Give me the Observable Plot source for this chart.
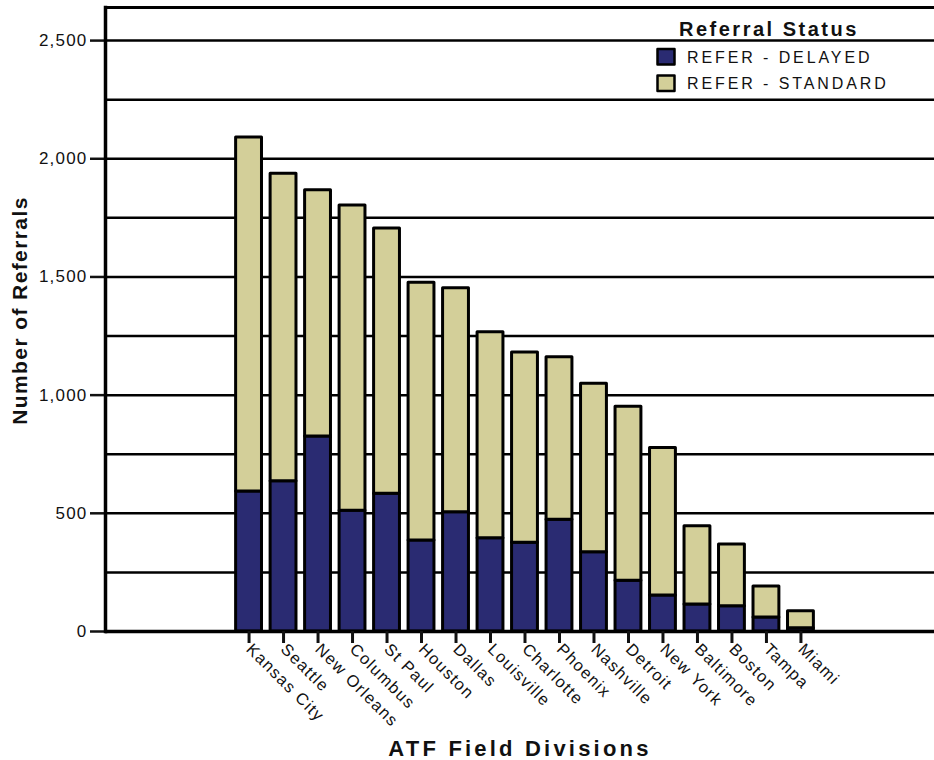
<!DOCTYPE html>
<html>
<head>
<meta charset="utf-8">
<script src="https://cdn.jsdelivr.net/npm/d3@7"></script>
<script src="https://cdn.jsdelivr.net/npm/@observablehq/plot@0.6"></script>
<style>
  html, body { margin: 0; padding: 0; background: #fff; }
  #wrap { position: relative; width: 934px; height: 760px; }
  #legend { position: absolute; left: 0; top: 0; pointer-events: none; }
  g[aria-label="y-axis tick label"] text { letter-spacing: 1.2px; }
  g[aria-label="x-axis tick label"] text { letter-spacing: 1.3px; }
</style>
</head>
<body>
<div id="wrap"></div>
<script>
// ---- data ----
const divisions = ["Kansas City", "Seattle", "New Orleans", "Columbus", "St Paul", "Houston", "Dallas",
  "Louisville", "Charlotte", "Phoenix", "Nashville", "Detroit", "New York", "Baltimore", "Boston", "Tampa", "Miami"];
const delayed  = [592, 636, 825, 511, 583, 385, 504, 395, 376, 473, 335, 215, 152, 114, 107, 59, 14];
const standard = [1498, 1301, 1042, 1291, 1122, 1091, 948, 871, 804, 687, 713, 736, 624, 331, 261, 131, 72];
const statuses = ["REFER - DELAYED", "REFER - STANDARD"];
const statusColors = ["#2a2b72", "#d3cf99"];
const yTicks = [0, 500, 1000, 1500, 2000, 2500];
const gridValues = [250, 500, 750, 1000, 1250, 1500, 1750, 2000, 2250, 2500];
const yMax = 2640;
const legendTitle = "Referral Status";
const xTitle = "ATF Field Divisions";
const yTitle = "Number of Referrals";

const rows = divisions.flatMap((d, i) => [
  {division: d, status: statuses[0], value: delayed[i]},
  {division: d, status: statuses[1], value: standard[i]}
]);

const font = "'Liberation Sans', Arial, Helvetica, sans-serif";

const chart = Plot.plot({
  width: 934,
  height: 760,
  marginLeft: 105,
  marginRight: 0,
  marginTop: 7,
  marginBottom: 129,
  style: {fontFamily: font, background: "white", color: "black"},
  x: {domain: divisions, paddingInner: 0.25, paddingOuter: 0.25, insetLeft: 122, insetRight: 112, round: false, label: null},
  y: {domain: [0, yMax], label: null},
  color: {domain: statuses, range: statusColors},
  marks: [
    Plot.ruleY(gridValues, {stroke: "black", strokeWidth: 2.5}),
    Plot.ruleY([yMax], {stroke: "black", strokeWidth: 3}),
    Plot.barY(rows, {x: "division", y: "value", fill: "status", stroke: "black", strokeWidth: 3, strokeLinejoin: "round"}),
    Plot.ruleY([0], {stroke: "black", strokeWidth: 3.5}),
    Plot.axisY({ticks: yTicks, tickSize: 15, tickPadding: 3, tickFormat: d3.format(","), fontSize: 17, strokeWidth: 2.5, color: "#111"}),
    Plot.axisX({tickSize: 12, tickPadding: 3, tickRotate: 45, fontSize: 16.5, strokeWidth: 3, color: "#111"}),
    Plot.frame({anchor: "left", stroke: "black", strokeWidth: 3.5}),
    Plot.text([yTitle], {frameAnchor: "left", textAnchor: "middle", lineAnchor: "middle", dx: -85, dy: -9, rotate: -90, fontSize: 21, fontWeight: "bold", fill: "#111"}),
    Plot.text([xTitle], {frameAnchor: "bottom", textAnchor: "middle", lineAnchor: "bottom", dy: 124, fontSize: 22, fontWeight: "bold", fill: "#111"})
  ]
});

const wrap = document.getElementById("wrap");
wrap.appendChild(chart);

// letter spacing for the axis titles
d3.select(chart).selectAll("text").filter(function() { return this.textContent === xTitle; })
  .style("letter-spacing", "3.2px");
d3.select(chart).selectAll("text").filter(function() { return this.textContent === yTitle; })
  .style("letter-spacing", "1.4px");

// ---- legend overlay ----
const leg = d3.select(wrap).append("svg")
  .attr("id", "legend").attr("width", 934).attr("height", 110)
  .style("font-family", font);
leg.append("text").attr("x", 679).attr("y", 35.5)
  .attr("font-size", 20).attr("font-weight", "bold").attr("fill", "#111")
  .style("letter-spacing", "2.5px").text(legendTitle);
statuses.forEach((s, i) => {
  const y0 = 49 + i * 26.5;
  leg.append("rect").attr("x", 657.5).attr("y", y0).attr("width", 17).attr("height", 15.5)
    .attr("fill", statusColors[i]).attr("stroke", "black").attr("stroke-width", 2.5).attr("stroke-linejoin", "round");
  leg.append("text").attr("x", 687).attr("y", y0 + 13.5)
    .attr("font-size", 16).attr("fill", "#111").style("letter-spacing", "2.9px").text(s);
});
</script>
</body>
</html>
